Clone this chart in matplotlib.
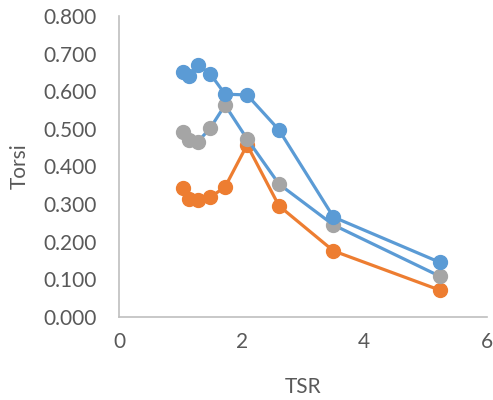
import matplotlib
matplotlib.use("Agg")
import matplotlib.pyplot as plt

# TSR values (same for all three series)
tsr = [1.04, 1.14, 1.29, 1.49, 1.73, 2.09, 2.61, 3.50, 5.23]

torsi_blue = [0.652, 0.640, 0.670, 0.646, 0.592, 0.590, 0.497, 0.265, 0.145]
torsi_gray = [0.492, 0.470, 0.466, 0.502, 0.563, 0.473, 0.353, 0.244, 0.108]
torsi_orange = [0.342, 0.313, 0.310, 0.318, 0.345, 0.457, 0.295, 0.175, 0.071]

y_ticks = [0.0, 0.1, 0.2, 0.3, 0.4, 0.5, 0.6, 0.7, 0.8]
x_ticks = [0, 2, 4, 6]

BLUE = "#5B9BD5"
ORANGE = "#ED7D31"
GRAY = "#A5A5A5"
TEXT = "#595959"
AXIS = "#BFBFBF"

plt.rcParams['font.family'] = ['Lato', 'DejaVu Sans']

fig = plt.figure(figsize=(4.93, 4.00), dpi=100)
ax = fig.add_axes([119 / 493, 1 - 316.7 / 400, (486.7 - 119) / 493, (316.7 - 16) / 400])

ax.plot(tsr, torsi_orange, color=ORANGE, lw=2.3, marker='o', ms=10,
        mfc=ORANGE, mec=ORANGE, zorder=2)
# grey markers, but Excel drew its line in blue
ax.plot(tsr, torsi_gray, color=BLUE, lw=2.3, zorder=3)
ax.plot(tsr, torsi_gray, ls='none', marker='o', ms=10, mfc=GRAY, mec=GRAY, zorder=3)
ax.plot(tsr, torsi_blue, color=BLUE, lw=2.3, marker='o', ms=10,
        mfc=BLUE, mec=BLUE, zorder=4)

ax.set_xlim(0, 6)
ax.set_ylim(0, 0.8)
ax.set_xticks(x_ticks)
ax.set_yticks(y_ticks)
ax.set_xticklabels([str(t) for t in x_ticks])
ax.set_yticklabels([f"{t:.3f}" for t in y_ticks])
ax.tick_params(length=0, labelsize=15, colors=TEXT)
ax.tick_params(axis='y', pad=16)
ax.tick_params(axis='x', pad=11)

for s in ['top', 'right']:
    ax.spines[s].set_visible(False)
for s in ['left', 'bottom']:
    ax.spines[s].set_color(AXIS)
    ax.spines[s].set_linewidth(1.2)

ax.set_xlabel("TSR", fontsize=15, color=TEXT, labelpad=18)
ax.set_ylabel("Torsi", fontsize=15, color=TEXT, labelpad=10)

fig.savefig("out.png", dpi=100)
